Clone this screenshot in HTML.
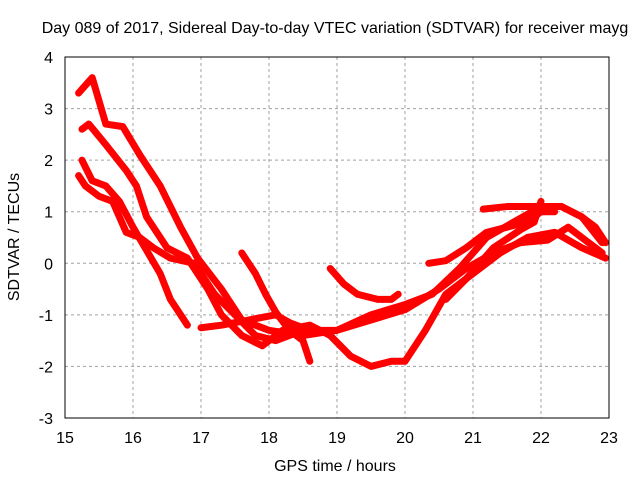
<!DOCTYPE html>
<html><head><meta charset="utf-8"><style>
body{margin:0;background:#fff}
svg text{font-family:"Liberation Sans",sans-serif;font-size:16px;fill:#000}
</style></head><body>
<svg width="640" height="480" id="c">
<text x="335" y="33" text-anchor="middle">Day 089 of 2017, Sidereal Day-to-day VTEC variation (SDTVAR) for receiver mayg</text>
<text x="335" y="471" text-anchor="middle">GPS time / hours</text>
<text transform="translate(19,237) rotate(-90)" text-anchor="middle">SDTVAR / TECUs</text>
<g id="grid"></g><g id="series"></g>
<rect x="65" y="57" width="544" height="361" fill="none" stroke="#000" stroke-width="1"/>
</svg>
<script>
const xTicks=[15,16,17,18,19,20,21,22,23];
const yTicks=[-3,-2,-1,0,1,2,3,4];
const s1x=[15.2,15.4,15.6,15.85,16.1,16.4,16.7,16.95,17.3,17.6,18.0,18.5,19.0,19.5,20.0,20.4,20.8,21.2,21.6,22.0,22.3,22.6,22.9];
const s1y=[3.3,3.6,2.7,2.65,2.1,1.5,0.7,0.1,-0.5,-1.1,-1.3,-1.4,-1.3,-1.0,-0.8,-0.6,-0.1,0.5,0.8,1.1,1.1,0.9,0.4];
const s2x=[15.25,15.35,15.6,15.9,16.05,16.2,16.5,16.8,17.1,17.3,17.6,17.9,18.2,18.6,18.9,19.2,19.5,19.8,20.0,20.3,20.6,21.0,21.4,21.8,22.2,22.6,22.95];
const s2y=[2.6,2.7,2.3,1.8,1.5,0.9,0.3,0.1,-0.5,-1.0,-1.4,-1.6,-1.3,-1.2,-1.4,-1.8,-2.0,-1.9,-1.9,-1.3,-0.6,-0.2,0.2,0.5,0.6,0.3,0.1];
const s3x=[15.25,15.4,15.6,15.8,16.0,16.2,16.4,16.55,16.7,16.8];
const s3y=[2.0,1.6,1.5,1.2,0.7,0.25,-0.2,-0.7,-1.0,-1.2];
const s4x=[15.2,15.3,15.5,15.7,15.9,16.1,16.3,16.55,16.9,17.2,17.5,17.8,18.1,18.5,19.0,19.5,20.0,20.5,20.9,21.3,21.7,22.1,22.4,22.9];
const s4y=[1.7,1.5,1.3,1.2,0.6,0.5,0.3,0.1,0.0,-0.6,-1.0,-1.4,-1.5,-1.3,-1.3,-1.1,-0.9,-0.5,-0.1,0.2,0.4,0.45,0.7,0.2];
const s5x=[17.0,17.3,17.7,18.1,18.3,18.6];
const s5y=[-1.25,-1.2,-1.1,-1.0,-1.15,-1.3];
const s6x=[17.6,17.8,17.95,18.1,18.3,18.5,18.6];
const s6y=[0.2,-0.2,-0.6,-0.95,-1.3,-1.5,-1.9];
const s7x=[18.9,19.1,19.3,19.6,19.8,19.9];
const s7y=[-0.1,-0.4,-0.6,-0.7,-0.7,-0.6];
const s8x=[20.35,20.6,20.9,21.2,21.5,21.8,22.0,22.2];
const s8y=[0.0,0.05,0.3,0.6,0.7,0.8,1.0,1.0];
const s9x=[21.15,21.5,21.9,22.3,22.6,22.8,22.95];
const s9y=[1.05,1.1,1.1,1.1,0.9,0.7,0.4];
const s10x=[20.6,20.9,21.3,21.7,21.9,22.0];
const s10y=[-0.7,-0.3,0.3,0.65,0.8,1.2];
const X=v=>65+(v-15)*68, Y=v=>57+(4-v)*361/7;
const NS="http://www.w3.org/2000/svg";
const g=document.getElementById('grid'), sg=document.getElementById('series');
xTicks.forEach(t=>{
 if(t>15&&t<23){const l=document.createElementNS(NS,'line');
 
 
 l.setAttribute('x1',X(t));l.setAttribute('x2',X(t));l.setAttribute('y1',57);l.setAttribute('y2',418);
 l.setAttribute('stroke','#a0a0a0');l.setAttribute('stroke-dasharray','3,3');g.appendChild(l);}
 const tx=document.createElementNS(NS,'text');
 
 
 tx.setAttribute('x',X(t));tx.setAttribute('y',443);tx.setAttribute('text-anchor','middle');tx.textContent=t;g.appendChild(tx);
});
yTicks.forEach(t=>{
 if(t>-3&&t<4){const l=document.createElementNS(NS,'line');
 
 
 l.setAttribute('x1',65);l.setAttribute('x2',609);l.setAttribute('y1',Y(t));l.setAttribute('y2',Y(t));
 l.setAttribute('stroke','#a0a0a0');l.setAttribute('stroke-dasharray','3,3');g.appendChild(l);}
 const tx=document.createElementNS(NS,'text');
 
 
 tx.setAttribute('x',53);tx.setAttribute('y',Y(t)+6);tx.setAttribute('text-anchor','end');tx.textContent=t;g.appendChild(tx);
});
[[s1x,s1y],[s2x,s2y],[s3x,s3y],[s4x,s4y],[s5x,s5y],[s6x,s6y],[s7x,s7y],[s8x,s8y],[s9x,s9y],[s10x,s10y]].forEach(([xs,ys])=>{
 const p=document.createElementNS(NS,'polyline');
 
 
 p.setAttribute('points',xs.map((x,i)=>X(x)+','+Y(ys[i])).join(' '));
 p.setAttribute('fill','none');p.setAttribute('stroke','#ff0000');p.setAttribute('stroke-width','7');
 p.setAttribute('stroke-linejoin','round');p.setAttribute('stroke-linecap','round');sg.appendChild(p);
});
</script>
</body></html>
